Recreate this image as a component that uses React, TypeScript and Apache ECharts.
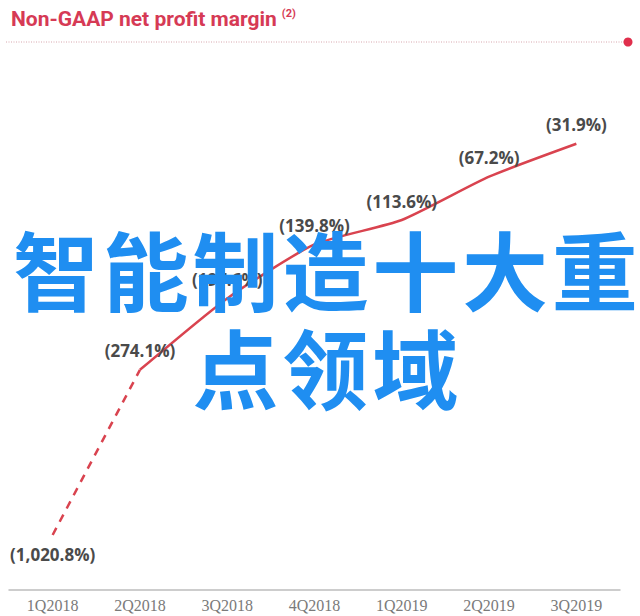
import React, { useEffect, useRef } from "react";
import * as echarts from "echarts";

const quarters = ["1Q2018", "2Q2018", "3Q2018", "4Q2018", "1Q2019", "2Q2019", "3Q2019"];
const netMargin = [-1020.8, -274.1, -197.6, -139.8, -113.6, -67.2, -31.9];
const titleText = "Non-GAAP net profit margin";
const titleNote = "(2)";
const overlayRow1 = ["智", "能", "制", "造", "十", "大", "重"];
const overlayRow2 = ["点", "领", "域"];

// broken axis: values below the break are compressed
const BREAK_AT = -274.1;
const BREAK_RATIO = 0.237;
const toDisplay = (v: number) => (v >= BREAK_AT ? v : BREAK_AT + (v - BREAK_AT) * BREAK_RATIO);

const fmt = (v: number) =>
  "(" + Math.abs(v).toLocaleString("en-US", { minimumFractionDigits: 1, maximumFractionDigits: 1 }) + "%)";

export default function App() {
  const ref = useRef<HTMLDivElement>(null);
  useEffect(() => {
    document.body.style.margin = "0";
    const chart = echarts.init(ref.current!, undefined, { renderer: "svg" });
    const lineColor = "#d9434f";
    const dashedData = netMargin.map((v, i) => (i <= 1 ? toDisplay(v) : null));
    const solidData = netMargin.map((v, i) => (i >= 1 ? toDisplay(v) : null));
    const labelStyle = {
      show: true,
      color: "#4a4a4a",
      fontFamily: "Open Sans",
      fontWeight: "bold" as const,
      fontSize: 17,
    };
    const overlayFont = "bold 86px 'Noto Sans CJK SC'";
    const colX = (i: number) => 56 + i * 89.8;
    const overlay: any[] = [];
    overlayRow1.forEach((ch, i) =>
      overlay.push({
        type: "text",
        x: colX(i),
        y: 267,
        style: { text: ch, fill: "#1f8ef1", font: overlayFont, textAlign: "center", textVerticalAlign: "middle" },
        z: 100,
        silent: true,
      })
    );
    overlayRow2.forEach((ch, i) =>
      overlay.push({
        type: "text",
        x: colX(i + 2),
        y: 365,
        style: { text: ch, fill: "#1f8ef1", font: overlayFont, textAlign: "center", textVerticalAlign: "middle" },
        z: 100,
        silent: true,
      })
    );
    chart.setOption({
      animation: false,
      backgroundColor: "#ffffff",
      title: {
        left: 6,
        top: 3,
        text: "{a|" + titleText + "} {b|" + titleNote + "}",
        textStyle: {
          rich: {
            a: { fontFamily: "Roboto", fontWeight: "bold", fontSize: 21, color: "#d63a55" },
            b: { fontFamily: "Roboto", fontWeight: "bold", fontSize: 11, color: "#d63a55", verticalAlign: "top", padding: [0, 0, 10, 0] },
          },
        },
      },
      grid: { left: 9, right: 20, top: 58, bottom: 26 },
      xAxis: {
        type: "category",
        data: quarters,
        boundaryGap: true,
        axisLine: { onZero: false, lineStyle: { color: "#bdbdbd", width: 1.5 } },
        axisTick: { show: false },
        axisLabel: { color: "#7a7a7a", fontFamily: "Liberation Serif", fontSize: 16, margin: 7 },
      },
      yAxis: {
        type: "value",
        min: -510,
        max: 60,
        show: false,
        splitLine: { show: false },
      },
      series: [
        {
          type: "line",
          data: dashedData,
          symbol: "circle",
          symbolSize: 1,
          itemStyle: { color: "rgba(0,0,0,0)" },
          lineStyle: { color: lineColor, width: 2.5, type: [8, 7] },
          label: {
            ...labelStyle,
            position: "bottom",
            distance: 11,
            formatter: (p: any) => (p.dataIndex === 0 ? fmt(netMargin[0]) : ""),
          },
          z: 2,
        },
        {
          type: "line",
          data: solidData,
          symbol: "circle",
          symbolSize: 1,
          itemStyle: { color: "rgba(0,0,0,0)" },
          smooth: 0.2,
          lineStyle: { color: lineColor, width: 2.5 },
          label: {
            ...labelStyle,
            position: "top",
            distance: 10,
            formatter: (p: any) => fmt(netMargin[p.dataIndex]),
          },
          z: 3,
        },
      ],
      graphic: [
        {
          type: "line",
          shape: { x1: 6, y1: 42, x2: 624, y2: 42 },
          style: { stroke: "#d8a7ae", lineWidth: 1, lineDash: [1, 1.5] },
          silent: true,
        },
        {
          type: "circle",
          shape: { cx: 628, cy: 42, r: 4.5 },
          style: { fill: "#e02f4c" },
          silent: true,
        },
        ...overlay,
      ],
    });
    return () => chart.dispose();
  }, []);
  return <div ref={ref} style={{ width: 640, height: 616 }} />;
}
